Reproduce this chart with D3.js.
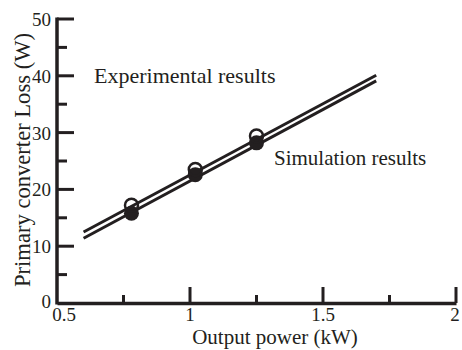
<!DOCTYPE html>
<html lang="en">
  <head>
    <script src="https://d3js.org/d3.v7.min.js"></script>
    <meta charset="utf-8"/>
    <style>
      body { margin: 0; background: #fff; }
      text { font-family: "Liberation Serif", "Times New Roman", serif; fill: #231f20; }
    </style>
  </head>
  <body>
    <svg id="chart" width="462" height="350"></svg>
  <script>
  // data
  const powerKW = [0.78, 1.02, 1.25];
  const experimental = [17.2, 23.5, 29.4];
  const simulation = [15.8, 22.6, 28.2];
  const expFit = [[0.6, 12.5], [1.7, 40.1]];
  const simFit = [[0.6, 11.4], [1.7, 39.1]];
  const xTicks = [0.5, 1, 1.5, 2];
  const yTicks = [0, 10, 20, 30, 40, 50];

  const svg = d3.select("#chart");
  const ink = "#231f20";

  let x = d3.scaleLinear().domain([0.5, 2]).range([57, 456]);
  let y = d3.scaleLinear().domain([0, 50]).range([303, 19]);

  // fitted lines
  const line = d3.line().x(d => x(d[0])).y(d => y(d[1]));
  [expFit, simFit].forEach(function(d){
    svg.append("path")
      .attr("d", line(d))
      .attr("fill", "none")
      .attr("stroke", ink)
      .attr("stroke-width", 3);
  });

  // markers: filled (simulation) first, open (experimental) on top
  svg.selectAll("circle.sim")
    .data(powerKW)
    .enter()
    .append("circle")
      .attr("class", "sim")
      .attr("cx", d => x(d))
      .attr("cy", (d, i) => y(simulation[i]))
      .attr("r", 7.5)
      .attr("fill", ink);

  svg.selectAll("circle.exp")
    .data(powerKW)
    .enter()
    .append("circle")
      .attr("class", "exp")
      .attr("cx", d => x(d))
      .attr("cy", (d, i) => y(experimental[i]))
      .attr("r", 6.5)
      .attr("fill", "none")
      .attr("stroke", ink)
      .attr("stroke-width", 2.5);

  // x axis, ticks pointing inward
  svg.append("g")
    .attr("transform", "translate(0," + y(0) + ")")
    .call(d3.axisTop(x).tickValues(xTicks).tickSize(0).tickFormat(""))
    .call(g => g.select(".domain").attr("stroke", ink).attr("stroke-width", 3.5));
  svg.append("g")
    .selectAll("line")
    .data(d3.range(0.75, 2.01, 0.25))
    .enter()
    .append("line")
      .attr("x1", d => x(d)).attr("x2", d => x(d))
      .attr("y1", y(0))
      .attr("y2", d => y(0) - (Number.isInteger(d * 2) ? 16 : 8))
      .attr("stroke", ink)
      .attr("stroke-width", 3);
  svg.selectAll("text.xt")
    .data(xTicks)
    .enter()
    .append("text")
      .attr("x", d => d === 2 ? x(d) - 1 : x(d) + (d === 0.5 ? 7 : 0))
      .attr("y", 321)
      .attr("text-anchor", "middle")
      .attr("font-size", "19px")
      .text(d => d);

  // y axis
  svg.append("line")
    .attr("x1", x(0.5)).attr("x2", x(0.5))
    .attr("y1", y(0) + 1.5).attr("y2", y(50) - 1.5)
    .attr("stroke", ink)
    .attr("stroke-width", 3.5);
  svg.append("g")
    .selectAll("line")
    .data(d3.range(5, 51, 5))
    .enter()
    .append("line")
      .attr("x1", x(0.5))
      .attr("x2", d => x(0.5) + (d % 10 === 0 ? 17 : 10))
      .attr("y1", d => y(d)).attr("y2", d => y(d))
      .attr("stroke", ink)
      .attr("stroke-width", 3);
  svg.selectAll("text.yt")
    .data(yTicks)
    .enter()
    .append("text")
      .attr("x", 51)
      .attr("y", d => y(d) + (d === 0 ? 5 : 7))
      .attr("text-anchor", "end")
      .attr("font-size", "19px")
      .text(d => d);

  // titles
  svg.append("text")
    .attr("transform", "translate(30,160) rotate(-90)")
    .attr("text-anchor", "middle")
    .attr("font-size", "23px")
    .attr("textLength", 254)
    .attr("lengthAdjust", "spacingAndGlyphs")
    .text("Primary converter Loss (W)");
  svg.append("text")
    .attr("x", 275).attr("y", 344)
    .attr("text-anchor", "middle")
    .attr("font-size", "21px")
    .text("Output power (kW)");

  // annotations
  svg.append("text")
    .attr("x", 94).attr("y", 83)
    .attr("font-size", "22px")
    .text("Experimental results");
  svg.append("text")
    .attr("x", 274).attr("y", 165)
    .attr("font-size", "21px")
    .text("Simulation results");
  </script>
  </body>
</html>
